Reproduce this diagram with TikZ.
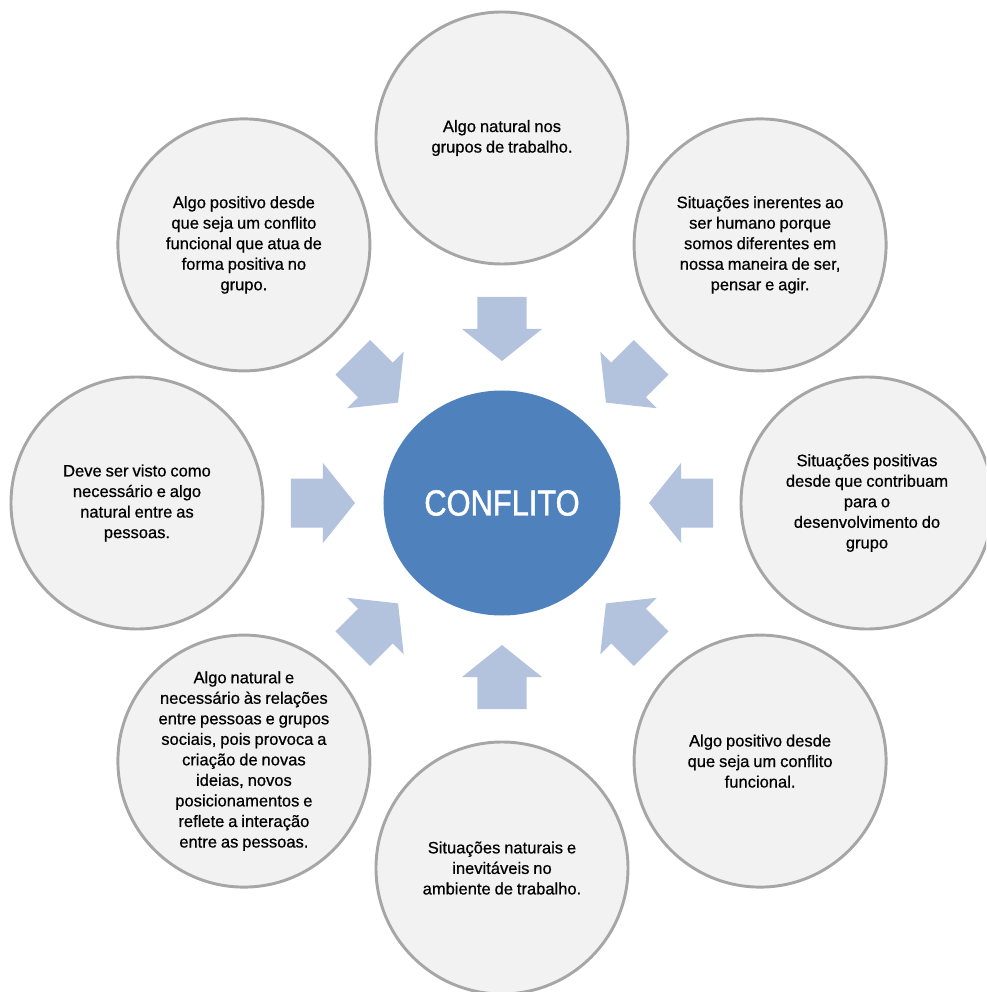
\documentclass[tikz,border=0pt]{standalone}
\usepackage{fontspec}
\setmainfont{Liberation Sans}[WordSpace=0.85, FakeBold=0.6]
\newfontfamily\titlefont{Liberation Sans}[FakeStretch=0.85, FakeBold=1.2]
\usetikzlibrary{shapes.geometric}

\definecolor{ringfill}{RGB}{242,242,242}
\definecolor{ringline}{RGB}{166,166,166}
\definecolor{hubblue}{RGB}{79,129,189}
\definecolor{arrowblue}{RGB}{179,194,221}

\tikzset{
  idea/.style={circle, draw=ringline, line width=2.2pt, fill=ringfill,
    minimum size=189pt, inner sep=0pt, align=center, text=black,
    font=\fontsize{12.4}{15.4}\selectfont},
  hub/.style={ellipse, fill=hubblue, minimum width=177.75pt,
    minimum height=168.75pt, inner sep=0pt, text=white,
    font=\titlefont\fontsize{27.2}{30}\selectfont},
  blockarrow/.style={fill=arrowblue, draw=none}
}

% block arrow pointing at the hub, placed at angle #1 around it
\newcommand\hubarrow[1]{%
  \path[blockarrow, shift={({147*cos(#1)},{142*sin(#1)})}, rotate=#1]
    (0,0) -- (32,40) -- (32,24.5) -- (64,24.5) -- (64,-24.5)
    -- (32,-24.5) -- (32,-40) -- cycle;}

\begin{document}
\begin{tikzpicture}[x=0.75pt, y=0.75pt]
  \useasboundingbox (-502,-489) rectangle (484,503);
  \clip (-502,-489) rectangle (484,503);

  \node[hub] (hub) at (0,0) {CONFLITO};

  \node[idea] (n) at (90:365) {Algo natural nos\\grupos de trabalho.};
  \node[idea] (ne) at (45:365) {Situações inerentes ao\\ser humano porque\\somos diferentes em\\nossa maneira de ser,\\pensar e agir.};
  \node[idea] (e) at (0:365) {Situações positivas\\desde que contribuam\\para o\\desenvolvimento do\\grupo};
  \node[idea] (se) at (-45:365) {Algo positivo desde\\que seja um conflito\\funcional.};
  \node[idea] (s) at (-90:365) {Situações naturais e\\inevitáveis no\\ambiente de trabalho.};
  \node[idea] (sw) at (-135:365) {Algo natural e\\necessário às relações\\entre pessoas e grupos\\sociais, pois provoca a\\criação de novas\\ideias, novos\\posicionamentos e\\reflete a interação\\entre as pessoas.};
  \node[idea] (w) at (180:365) {Deve ser visto como\\necessário e algo\\natural entre as\\pessoas.};
  \node[idea] (nw) at (135:365) {Algo positivo desde\\que seja um conflito\\funcional que atua de\\forma positiva no\\grupo.};

  \foreach \a in {0,45,...,315} { \hubarrow{\a} }
\end{tikzpicture}
\end{document}
